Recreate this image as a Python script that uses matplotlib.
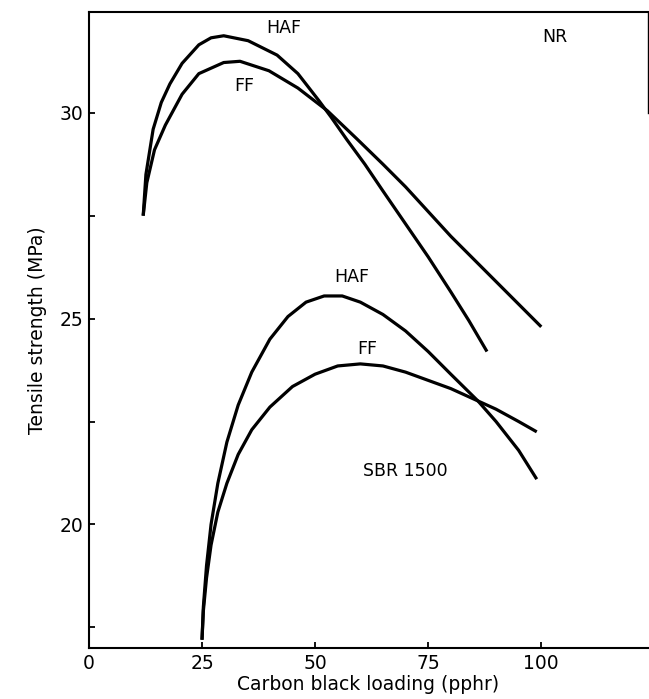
import matplotlib.pyplot as plt

# NR curves (carbon black loading in pphr, tensile strength in MPa)
nr_haf_x = [12, 12.6, 14.2, 16, 17.9, 20.6, 24.3, 27, 29.8, 35.2, 41.6, 46.2, 50.8, 53.5,
            57, 61, 65, 70, 75, 80, 84, 88]
nr_haf_y = [27.5, 28.5, 29.6, 30.25, 30.7, 31.2, 31.65, 31.82, 31.87, 31.75, 31.4, 30.95,
            30.3, 29.9, 29.35, 28.75, 28.1, 27.3, 26.5, 25.65, 24.95, 24.2]

nr_ff_x = [12, 12.8, 14.5, 16.9, 20.6, 24.3, 29.8, 33.4, 39.8, 46.2, 52.7, 59.1,
           65, 70, 75, 80, 85, 90, 95, 100]
nr_ff_y = [27.5, 28.3, 29.1, 29.7, 30.45, 30.95, 31.22, 31.25, 31.02, 30.6, 30.05, 29.38,
           28.75, 28.2, 27.6, 27.0, 26.45, 25.9, 25.35, 24.8]

# SBR 1500 curves
sbr_haf_x = [25, 25.3, 26, 27, 28.5, 30.5, 33, 36, 40, 44, 48, 52, 56, 60, 65, 70, 75, 80, 86, 90, 95, 99]
sbr_haf_y = [17.2, 18.0, 19.0, 20.0, 21.0, 22.0, 22.9, 23.7, 24.5, 25.05, 25.4, 25.55, 25.55,
             25.4, 25.1, 24.7, 24.2, 23.65, 23.0, 22.5, 21.8, 21.1]

sbr_ff_x = [25, 25.3, 26, 27, 28.5, 30.5, 33, 36, 40, 45, 50, 55, 60, 65, 70, 75, 80, 86, 90, 95, 99]
sbr_ff_y = [17.2, 17.9, 18.7, 19.5, 20.3, 21.0, 21.7, 22.3, 22.85, 23.35, 23.65, 23.85, 23.9,
            23.85, 23.7, 23.5, 23.3, 23.0, 22.8, 22.5, 22.25]

xticks = [0, 25, 50, 75, 100]
yticks = [20, 25, 30]
yminor = [17.5, 22.5, 27.5]

plt.rcParams['font.family'] = ['DejaVu Sans']

fig = plt.figure(figsize=(6.49, 6.99), dpi=100)
ax = fig.add_axes([0.137, 0.073, 0.8615, 0.910])

lw = 2.3
ax.plot(nr_haf_x, nr_haf_y, color='black', lw=lw, solid_capstyle='butt')
ax.plot(nr_ff_x, nr_ff_y, color='black', lw=lw, solid_capstyle='butt')
ax.plot(sbr_haf_x, sbr_haf_y, color='black', lw=lw, solid_capstyle='butt')
ax.plot(sbr_ff_x, sbr_ff_y, color='black', lw=lw, solid_capstyle='butt')

fs = 12.5
ax.text(43, 32.05, 'HAF', fontsize=fs, ha='center', va='center')
ax.text(34.3, 30.65, 'FF', fontsize=fs, ha='center', va='center')
ax.text(103, 31.85, 'NR', fontsize=fs, ha='center', va='center')
ax.text(58, 26.0, 'HAF', fontsize=fs, ha='center', va='center')
ax.text(61.5, 24.25, 'FF', fontsize=fs, ha='center', va='center')
ax.text(70, 21.3, 'SBR 1500', fontsize=fs, ha='center', va='center')

ax.set_xlim(0, 123.6)
ax.set_ylim(17.0, 32.45)
ax.set_xticks(xticks)
ax.set_yticks(yticks)
ax.set_yticks(yminor, minor=True)
ax.tick_params(direction='in', length=4, width=1.3, labelsize=13.5, pad=4)
ax.tick_params(which='minor', direction='in', length=4, width=1.3)

for side in ['left', 'bottom', 'top']:
    ax.spines[side].set_linewidth(1.5)
ax.spines['right'].set_linewidth(1.0)
ax.spines['right'].set_bounds(30.0, 32.45)

ax.set_xlabel('Carbon black loading (pphr)', fontsize=13.5, labelpad=2)
ax.set_ylabel('Tensile strength (MPa)', fontsize=13.5, labelpad=9)

plt.savefig('out.png', dpi=100)
